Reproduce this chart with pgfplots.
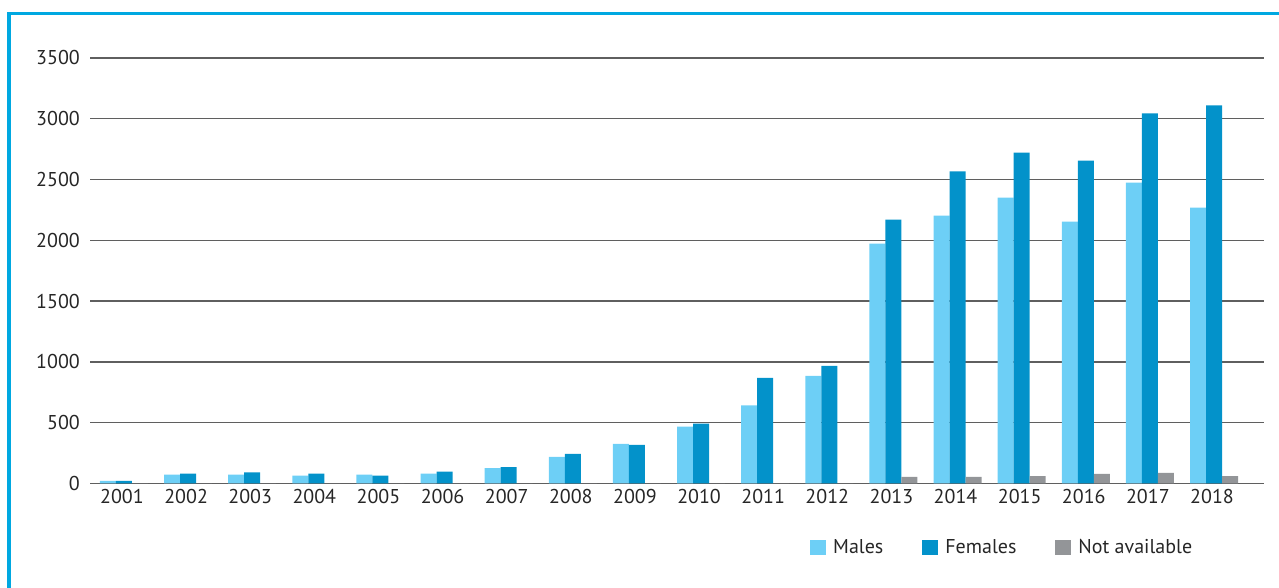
\documentclass[border=0pt]{standalone}
\usepackage{pgfplots}
\pgfplotsset{compat=1.18}
\usepackage{pgfplotstable}
\usepackage{fontspec}
\setmainfont{PT Sans}
\definecolor{males}{HTML}{6DCFF6}
\definecolor{females}{HTML}{0392CA}
\definecolor{nacol}{HTML}{939598}
\definecolor{framecol}{HTML}{00A8E1}
\definecolor{gridcol}{HTML}{5F5F5F}
\pgfplotstableread{
idx males females na
0 20 20 0
1 72 80 0
2 72 89 0
3 64 80 0
4 72 64 0
5 80 97 0
6 125 133 0
7 217 242 0
8 325 317 0
9 467 492 0
10 642 867 0
11 883 967 0
12 1972 2170 52
13 2203 2566 52
14 2351 2722 60
15 2154 2656 77
16 2475 3044 85
17 2269 3110 60
}\datatable
\begin{document}
\begin{tikzpicture}[x=1bp,y=1bp]
\path[use as bounding box] (0,0) rectangle (1279,588);
\draw[framecol,line width=3.6bp] (9,0) -- (9,574.5) -- (1279,574.5);
\begin{axis}[
  at={(90bp,104.7bp)}, anchor=south west,
  scale only axis, width=1174bp, height=425.3bp,
  xmin=-0.53, xmax=17.78, ymin=0, ymax=3500,
  ybar=0pt, bar width=16bp,
  axis line style={draw=none},
  xmajorgrids=false, ymajorgrids=true,
  major grid style={draw=gridcol, line width=1.5bp},
  major tick length=0pt,
  ytick={0,500,...,3500},
  xtick={0,...,17},
  xticklabels={2001,2002,2003,2004,2005,2006,2007,2008,2009,2010,2011,2012,2013,2014,2015,2016,2017,2018},
  tick label style={font=\fontsize{20bp}{23bp}\selectfont, text=black!85},
  /pgf/number format/assume math mode=true,
  /pgf/number format/1000 sep={},
  yticklabel style={anchor=east, inner sep=0pt, xshift=-10bp},
  xticklabel style={anchor=north, inner sep=0pt, yshift=-6bp, xshift=-2bp},
  legend columns=3,
  legend style={at={(0.6133,-0.151)}, anchor=west, draw=none, fill=none, inner sep=0pt,
    font=\fontsize{20bp}{23bp}\selectfont, text=black!85,
    nodes={inner sep=0pt, anchor=west},
    /tikz/every odd column/.append style={column sep=7bp},
    /tikz/every even column/.append style={column sep=39bp}},
  legend image code/.code={\fill[#1,draw=none] (0bp,-7.5bp) rectangle (16bp,7.5bp);},
]
\addplot[fill=males,draw=none] table[x=idx,y=males]{\datatable};
\addplot[fill=females,draw=none] table[x=idx,y=females]{\datatable};
\addplot[fill=nacol,draw=none] table[x=idx,y=na]{\datatable};
\legend{Males,Females,Not available}
\end{axis}
\end{tikzpicture}
\end{document}
